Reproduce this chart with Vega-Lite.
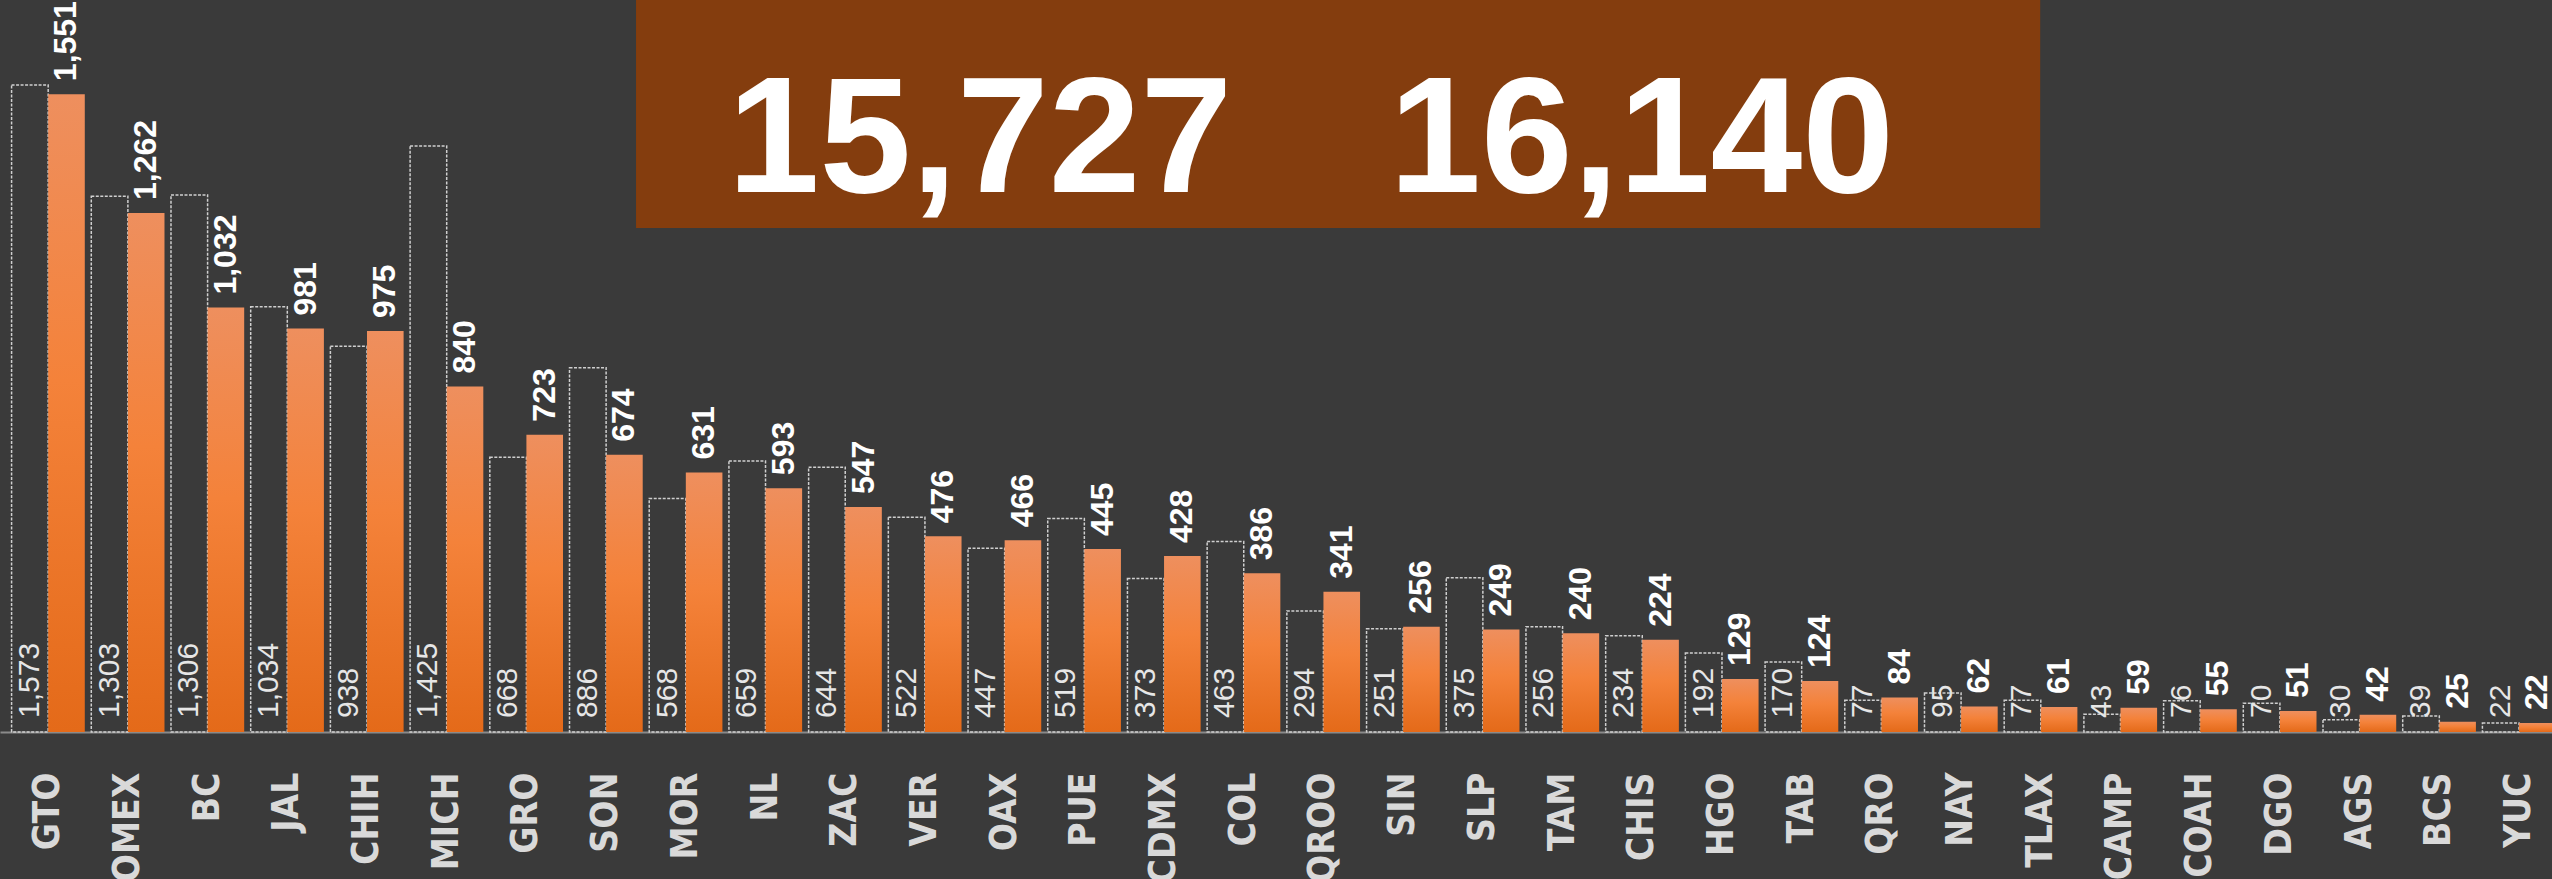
{
  "$schema": "https://vega.github.io/schema/vega-lite/v6.json",
  "width": 2552,
  "height": 879,
  "padding": 0,
  "autosize": {"type": "none"},
  "background": "#3a3a3a",
  "config": {"view": {"stroke": null}},
  "data": {
    "values": [
      {"state": "GTO", "prev": 1573, "curr": 1551},
      {"state": "EDOMEX", "prev": 1303, "curr": 1262},
      {"state": "BC", "prev": 1306, "curr": 1032},
      {"state": "JAL", "prev": 1034, "curr": 981},
      {"state": "CHIH", "prev": 938, "curr": 975},
      {"state": "MICH", "prev": 1425, "curr": 840},
      {"state": "GRO", "prev": 668, "curr": 723},
      {"state": "SON", "prev": 886, "curr": 674},
      {"state": "MOR", "prev": 568, "curr": 631},
      {"state": "NL", "prev": 659, "curr": 593},
      {"state": "ZAC", "prev": 644, "curr": 547},
      {"state": "VER", "prev": 522, "curr": 476},
      {"state": "OAX", "prev": 447, "curr": 466},
      {"state": "PUE", "prev": 519, "curr": 445},
      {"state": "CDMX", "prev": 373, "curr": 428},
      {"state": "COL", "prev": 463, "curr": 386},
      {"state": "QROO", "prev": 294, "curr": 341},
      {"state": "SIN", "prev": 251, "curr": 256},
      {"state": "SLP", "prev": 375, "curr": 249},
      {"state": "TAM", "prev": 256, "curr": 240},
      {"state": "CHIS", "prev": 234, "curr": 224},
      {"state": "HGO", "prev": 192, "curr": 129},
      {"state": "TAB", "prev": 170, "curr": 124},
      {"state": "QRO", "prev": 77, "curr": 84},
      {"state": "NAY", "prev": 95, "curr": 62},
      {"state": "TLAX", "prev": 77, "curr": 61},
      {"state": "CAMP", "prev": 43, "curr": 59},
      {"state": "COAH", "prev": 76, "curr": 55},
      {"state": "DGO", "prev": 70, "curr": 51},
      {"state": "AGS", "prev": 30, "curr": 42},
      {"state": "BCS", "prev": 39, "curr": 25},
      {"state": "YUC", "prev": 22, "curr": 22}
    ]
  },
  "layer": [
    {
      "mark": {"type": "bar", "width": {"band": 0.5}, "xOffset": -10.7, "filled": false, "color": "#cfcfcf", "strokeWidth": 1.5, "strokeDash": [3, 1.5]},
      "encoding": {
        "x": {
          "field": "state", "type": "nominal", "sort": null,
          "scale": {"paddingInner": 0.0816, "paddingOuter": 0.05},
          "axis": {
            "title": null, "orient": "bottom", "offset": -147,
            "labelAngle": -90, "labelAlign": "right", "labelBaseline": "middle",
            "labelOffset": 7.6,
            "labelFont": "DejaVu Sans Condensed, DejaVu Sans, sans-serif",
            "labelFontWeight": "bold", "labelFontSize": 37, "labelColor": "#d9d9d9",
            "labelPadding": 40, "ticks": false, "labelOverlap": false,
            "domain": true, "domainColor": "#8a8a8a", "domainWidth": 2, "grid": false
          }
        },
        "y": {"field": "prev", "type": "quantitative", "scale": {"domain": [-357.5, 1780], "nice": false, "zero": false}, "axis": null}
      }
    },
    {
      "mark": {
        "type": "bar", "width": {"band": 0.5}, "xOffset": 25.9,
        "color": {
          "gradient": "linear", "x1": 0, "y1": 0, "x2": 0, "y2": 1,
          "stops": [
            {"offset": 0, "color": "#EE8F5E"},
            {"offset": 0.45, "color": "#F4823A"},
            {"offset": 1, "color": "#E46A19"}
          ]
        }
      },
      "encoding": {
        "x": {"field": "state", "type": "nominal", "sort": null},
        "y": {"field": "curr", "type": "quantitative"}
      }
    },
    {
      "mark": {"type": "text", "angle": 270, "align": "left", "baseline": "middle", "dx": 14, "xOffset": -10.7, "font": "Liberation Sans, Arial, sans-serif", "fontSize": 30, "color": "#e6e6e6"},
      "encoding": {
        "x": {"field": "state", "type": "nominal", "sort": null},
        "y": {"datum": 0, "type": "quantitative"},
        "text": {"field": "prev", "type": "quantitative", "format": ",d"}
      }
    },
    {
      "mark": {"type": "text", "angle": 270, "align": "left", "baseline": "middle", "dx": 13, "xOffset": 25.9, "font": "Liberation Sans, Arial, sans-serif", "fontWeight": "bold", "fontSize": 32, "color": "#ffffff"},
      "encoding": {
        "x": {"field": "state", "type": "nominal", "sort": null},
        "y": {"field": "curr", "type": "quantitative"},
        "text": {"field": "curr", "type": "quantitative", "format": ",d"}
      }
    },
    {
      "data": {"values": [{"total_prev": "15,727", "total_curr": "16,140"}]},
      "mark": {"type": "rect", "color": "#843D0E", "xOffset": 37.5, "x2Offset": 7},
      "encoding": {
        "x": {"datum": "SON", "type": "nominal"},
        "x2": {"datum": "TLAX"},
        "y": {"datum": 1780, "type": "quantitative"},
        "y2": {"datum": 1225.6}
      }
    },
    {
      "data": {"values": [{"total_prev": "15,727", "total_curr": "16,140"}]},
      "mark": {"type": "text", "xOffset": -17, "font": "Liberation Sans, Arial, sans-serif", "fontWeight": "bold", "fontSize": 165, "color": "#ffffff", "align": "center", "baseline": "alphabetic"},
      "encoding": {
        "x": {"datum": "OAX", "type": "nominal"},
        "y": {"datum": 1313, "type": "quantitative"},
        "text": {"field": "total_prev"}
      }
    },
    {
      "data": {"values": [{"total_prev": "15,727", "total_curr": "16,140"}]},
      "mark": {"type": "text", "xOffset": 7, "font": "Liberation Sans, Arial, sans-serif", "fontWeight": "bold", "fontSize": 165, "color": "#ffffff", "align": "center", "baseline": "alphabetic"},
      "encoding": {
        "x": {"datum": "CHIS", "type": "nominal"},
        "y": {"datum": 1313, "type": "quantitative"},
        "text": {"field": "total_curr"}
      }
    }
  ]
}
